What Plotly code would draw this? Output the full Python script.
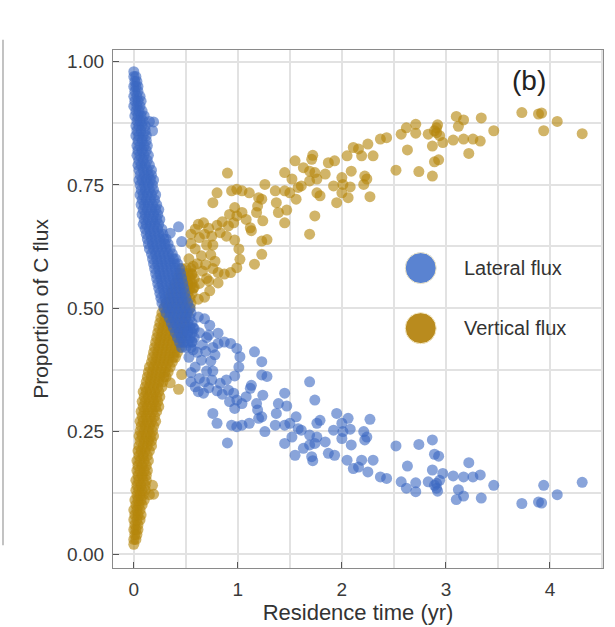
import plotly.graph_objects as go

# Dense core of sites with short residence times: one row per lateral-share level,
# with the residence times (yr) of the sites sitting at that level.
core_lateral_levels = [
    0.98, 0.97, 0.96, 0.95, 0.94, 0.93, 0.92, 0.91, 0.90, 0.89,
    0.88, 0.87, 0.86, 0.85, 0.84, 0.83, 0.82, 0.81, 0.80, 0.79,
    0.78, 0.77, 0.76, 0.75, 0.74, 0.73, 0.72, 0.71, 0.70, 0.69,
    0.68, 0.67, 0.66, 0.65, 0.64, 0.63, 0.62, 0.61, 0.60, 0.59,
    0.58, 0.57, 0.56, 0.55, 0.54, 0.53, 0.52, 0.51, 0.50, 0.49,
    0.48, 0.47, 0.46, 0.45, 0.44, 0.43, 0.42,
]
core_vertical_levels = [
    0.02, 0.03, 0.04, 0.05, 0.06, 0.07, 0.08, 0.09, 0.10, 0.11,
    0.12, 0.13, 0.14, 0.15, 0.16, 0.17, 0.18, 0.19, 0.20, 0.21,
    0.22, 0.23, 0.24, 0.25, 0.26, 0.27, 0.28, 0.29, 0.30, 0.31,
    0.32, 0.33, 0.34, 0.35, 0.36, 0.37, 0.38, 0.39, 0.40, 0.41,
    0.42, 0.43, 0.44, 0.45, 0.46, 0.47, 0.48, 0.49, 0.50, 0.51,
    0.52, 0.53, 0.54, 0.55, 0.56, 0.57, 0.58,
]
core_times = [
    [0.00],
    [0.00, 0.02],
    [0.01, 0.03],
    [0.00, 0.02, 0.04],
    [0.01, 0.04],
    [0.00, 0.03, 0.06],
    [0.01, 0.04, 0.07],
    [0.00, 0.03, 0.06],
    [0.02, 0.05, 0.08],
    [0.01, 0.04, 0.07, 0.10],
    [0.03, 0.06, 0.09],
    [0.02, 0.05, 0.08, 0.11],
    [0.03, 0.07, 0.11],
    [0.02, 0.05, 0.09, 0.12],
    [0.04, 0.08, 0.12],
    [0.03, 0.06, 0.10, 0.13],
    [0.04, 0.08, 0.12],
    [0.03, 0.06, 0.10, 0.14],
    [0.05, 0.09, 0.13],
    [0.04, 0.07, 0.11, 0.15],
    [0.05, 0.09, 0.13, 0.17],
    [0.06, 0.10, 0.14, 0.17],
    [0.05, 0.08, 0.12, 0.16, 0.19],
    [0.06, 0.10, 0.14, 0.18],
    [0.07, 0.11, 0.15, 0.19],
    [0.06, 0.09, 0.13, 0.17, 0.21],
    [0.08, 0.12, 0.16, 0.20],
    [0.07, 0.10, 0.14, 0.18, 0.22],
    [0.09, 0.13, 0.17, 0.21, 0.24],
    [0.08, 0.11, 0.15, 0.19, 0.23],
    [0.10, 0.14, 0.18, 0.22, 0.25],
    [0.09, 0.12, 0.16, 0.20, 0.24],
    [0.11, 0.15, 0.19, 0.23, 0.27],
    [0.12, 0.16, 0.20, 0.24, 0.28],
    [0.13, 0.17, 0.21, 0.25, 0.29, 0.31],
    [0.14, 0.18, 0.22, 0.26, 0.30, 0.33],
    [0.15, 0.19, 0.23, 0.27, 0.31, 0.35],
    [0.17, 0.21, 0.25, 0.29, 0.33, 0.37],
    [0.18, 0.22, 0.26, 0.30, 0.34, 0.38, 0.40],
    [0.19, 0.23, 0.27, 0.31, 0.35, 0.39, 0.42],
    [0.20, 0.24, 0.28, 0.32, 0.36, 0.40, 0.44],
    [0.21, 0.25, 0.29, 0.33, 0.37, 0.41, 0.45],
    [0.22, 0.26, 0.30, 0.34, 0.38, 0.42, 0.46],
    [0.23, 0.27, 0.31, 0.35, 0.39, 0.43, 0.47],
    [0.24, 0.28, 0.32, 0.36, 0.40, 0.44, 0.48],
    [0.25, 0.29, 0.33, 0.37, 0.41, 0.45, 0.49],
    [0.26, 0.30, 0.34, 0.38, 0.42, 0.46, 0.50],
    [0.27, 0.31, 0.35, 0.39, 0.43, 0.47, 0.52],
    [0.29, 0.33, 0.37, 0.41, 0.45, 0.49, 0.54],
    [0.31, 0.35, 0.39, 0.43, 0.47, 0.51, 0.55],
    [0.34, 0.38, 0.42, 0.46, 0.50, 0.54],
    [0.36, 0.40, 0.44, 0.48, 0.52, 0.56],
    [0.38, 0.42, 0.46, 0.50, 0.54, 0.57],
    [0.40, 0.44, 0.48, 0.52, 0.56],
    [0.42, 0.46, 0.50, 0.54, 0.58],
    [0.44, 0.48, 0.52, 0.56],
    [0.46, 0.50, 0.55],
]

# Individual sites away from the core
tail_time = [
    0.15, 0.19, 0.18, 0.35, 0.43, 0.46,
    0.62, 0.68, 0.73, 0.81, 0.70, 0.63, 0.66, 0.61, 0.65, 0.59, 0.55, 0.63, 0.59, 0.67, 0.70,
    0.52, 0.56, 0.58, 0.69, 0.72, 0.78, 0.68, 0.72, 0.80, 0.85, 0.62, 0.55, 0.53, 0.57,
    0.76, 0.81, 0.87, 0.93, 0.99, 1.02, 1.01, 0.97, 0.75, 0.83, 0.89, 0.74, 0.76,
    0.91, 0.96, 0.99, 1.04, 0.92, 0.97, 1.08, 1.12, 1.19, 1.20, 0.76, 0.80, 0.94, 0.99,
    1.04, 1.11, 0.90, 1.16, 1.23, 1.23, 1.28, 1.13, 1.24, 1.18, 1.23,
    1.69, 1.74, 1.45, 1.39, 1.47, 1.26, 1.37, 1.36, 1.45, 1.56, 1.52, 1.45, 1.61, 1.69,
    1.76, 1.74, 1.50, 1.58, 1.55, 1.63, 1.69, 1.71, 1.72, 1.79, 1.76, 1.84, 1.87, 1.93,
    1.95, 2.00, 1.92, 2.01, 2.06, 2.09, 2.00, 2.05, 2.11, 2.21, 2.24, 2.27, 2.19, 2.30,
    2.25, 2.37, 2.43, 2.08, 2.22, 2.16, 2.52, 2.74, 2.87, 2.89, 2.93, 3.22, 2.63, 2.57,
    2.62, 2.71, 2.71, 2.83, 2.87, 2.91, 2.91, 2.94, 2.97, 3.07, 3.12, 3.10, 3.17, 3.17,
    3.26, 3.33, 3.34, 3.46, 3.73, 3.89, 3.92, 3.94, 4.07, 4.31, 2.89, 2.92,
]
tail_lateral = [
    0.879, 0.878, 0.860, 0.652, 0.665, 0.635,
    0.482, 0.478, 0.465, 0.449, 0.440, 0.450, 0.425, 0.410, 0.394, 0.380, 0.369, 0.357, 0.340, 0.327, 0.372,
    0.452, 0.432, 0.458, 0.412, 0.445, 0.405, 0.350, 0.338, 0.332, 0.325, 0.330, 0.350, 0.400, 0.415,
    0.420, 0.428, 0.431, 0.428, 0.418, 0.401, 0.380, 0.362, 0.354, 0.347, 0.354, 0.392, 0.372,
    0.333, 0.327, 0.313, 0.306, 0.310, 0.296, 0.320, 0.337, 0.293, 0.276, 0.286, 0.266, 0.262, 0.259,
    0.262, 0.266, 0.226, 0.411, 0.391, 0.364, 0.361, 0.343, 0.323, 0.306, 0.279,
    0.350, 0.313, 0.327, 0.306, 0.301, 0.249, 0.286, 0.262, 0.262, 0.279, 0.238, 0.225, 0.252, 0.242,
    0.266, 0.225, 0.266, 0.255, 0.201, 0.215, 0.222, 0.198, 0.190, 0.272, 0.238, 0.228, 0.205, 0.201,
    0.286, 0.266, 0.252, 0.249, 0.276, 0.222, 0.235, 0.191, 0.174, 0.249, 0.238, 0.274, 0.191, 0.191,
    0.167, 0.157, 0.154, 0.254, 0.232, 0.177, 0.220, 0.223, 0.232, 0.203, 0.199, 0.186, 0.179, 0.147,
    0.134, 0.145, 0.127, 0.147, 0.171, 0.144, 0.134, 0.150, 0.164, 0.159, 0.131, 0.111, 0.118, 0.157,
    0.157, 0.161, 0.114, 0.140, 0.103, 0.106, 0.104, 0.140, 0.121, 0.146, 0.140, 0.128,
]
tail_vertical = [
    0.121, 0.122, 0.140, 0.348, 0.335, 0.365,
    0.518, 0.522, 0.535, 0.551, 0.560, 0.550, 0.575, 0.590, 0.606, 0.620, 0.631, 0.643, 0.660, 0.673, 0.628,
    0.548, 0.568, 0.542, 0.588, 0.555, 0.595, 0.650, 0.662, 0.668, 0.675, 0.670, 0.650, 0.600, 0.585,
    0.580, 0.572, 0.569, 0.572, 0.582, 0.599, 0.620, 0.638, 0.646, 0.653, 0.646, 0.608, 0.628,
    0.667, 0.673, 0.687, 0.694, 0.690, 0.704, 0.680, 0.663, 0.707, 0.724, 0.714, 0.734, 0.738, 0.741,
    0.738, 0.734, 0.774, 0.589, 0.609, 0.636, 0.639, 0.657, 0.677, 0.694, 0.721,
    0.650, 0.687, 0.673, 0.694, 0.699, 0.751, 0.714, 0.738, 0.738, 0.721, 0.762, 0.775, 0.748, 0.758,
    0.734, 0.775, 0.734, 0.745, 0.799, 0.785, 0.778, 0.802, 0.810, 0.728, 0.762, 0.772, 0.795, 0.799,
    0.714, 0.734, 0.748, 0.751, 0.724, 0.778, 0.765, 0.809, 0.826, 0.751, 0.762, 0.726, 0.809, 0.809,
    0.833, 0.843, 0.846, 0.746, 0.768, 0.823, 0.780, 0.777, 0.768, 0.797, 0.801, 0.814, 0.821, 0.853,
    0.866, 0.855, 0.873, 0.853, 0.829, 0.856, 0.866, 0.850, 0.836, 0.841, 0.869, 0.889, 0.882, 0.843,
    0.843, 0.839, 0.886, 0.860, 0.897, 0.894, 0.896, 0.860, 0.879, 0.854, 0.860, 0.872,
]

# Flatten the core rows and append the individual sites
residence_time, lateral_share, vertical_share = [], [], []
for lat, vert, times in zip(core_lateral_levels, core_vertical_levels, core_times):
    residence_time.extend(times)
    lateral_share.extend([lat] * len(times))
    vertical_share.extend([vert] * len(times))
residence_time.extend(tail_time)
lateral_share.extend(tail_lateral)
vertical_share.extend(tail_vertical)

BLUE = "#3a67c1"
GOLD = "#b4860c"
FONT = "Liberation Sans, Arial, Helvetica, sans-serif"
GRID = "#e2e2e2"

fig = go.Figure()
fig.add_trace(go.Scatter(
    x=residence_time, y=vertical_share, mode="markers", name="Vertical flux",
    marker=dict(size=11, color=GOLD, opacity=0.62, line=dict(width=0)),
))
fig.add_trace(go.Scatter(
    x=residence_time, y=lateral_share, mode="markers", name="Lateral flux",
    marker=dict(size=11, color=BLUE, opacity=0.6, line=dict(width=0)),
))

axis_common = dict(
    ticks="inside", ticklen=6, tickwidth=1, tickcolor="#555555",
    showline=True, linecolor="#8a8a8a", linewidth=1.2, mirror=True,
    showgrid=True, gridcolor=GRID, gridwidth=1.5, zeroline=False,
    tickfont=dict(family=FONT, size=19, color="#3a3a3a"),
    automargin=False,
)
fig.update_xaxes(
    range=[-0.2, 4.51], tickvals=[0, 1, 2, 3, 4],
    minor=dict(dtick=0.5, tick0=0, showgrid=True, gridcolor=GRID, gridwidth=1.5),
    title=dict(text="Residence time (yr)", font=dict(family=FONT, size=22, color="#333333"), standoff=5),
    ticklabelstandoff=4,
    **axis_common,
)
fig.update_yaxes(
    range=[-0.028, 1.024], tickvals=[0, 0.25, 0.5, 0.75, 1.0], tickformat=".2f",
    minor=dict(dtick=0.125, tick0=0, showgrid=True, gridcolor=GRID, gridwidth=1.5),
    title=dict(text="Proportion of C flux", font=dict(family=FONT, size=21, color="#333333"), standoff=12),
    ticklabelstandoff=4,
    **axis_common,
)

# Legend drawn as large discs with labels inside the plot area
legend_items = [("Lateral flux", "#5a83d1", 0.579), ("Vertical flux", "#b98b1e", 0.463)]
shapes = []
annotations = []
for label, color, ypos in legend_items:
    shapes.append(dict(
        type="circle", xref="paper", yref="paper",
        xsizemode="pixel", ysizemode="pixel", xanchor=0.628, yanchor=ypos,
        x0=-15.5, x1=15.5, y0=-15.5, y1=15.5,
        fillcolor=color, line=dict(color="#f3e9c8", width=1),
    ))
    annotations.append(dict(
        text=label, xref="paper", yref="paper", x=0.712, y=ypos,
        xanchor="left", yanchor="middle", showarrow=False,
        font=dict(family=FONT, size=20, color="#333333"),
    ))

# Right edge of the neighbouring panel's frame
shapes.append(dict(
    type="line", xref="paper", yref="paper", x0=-0.2245, x1=-0.2245, y0=0.044, y1=1.02,
    line=dict(color="#9a9a9a", width=1.2),
))

annotations.append(dict(
    text="(b)", xref="paper", yref="paper", x=0.849, y=0.942,
    xanchor="center", yanchor="middle", showarrow=False,
    font=dict(family=FONT, size=28, color="#222222"),
))

fig.update_layout(
    width=615, height=627,
    margin=dict(l=113, r=12, t=50, b=59),
    plot_bgcolor="white", paper_bgcolor="white",
    showlegend=False,
    shapes=shapes, annotations=annotations,
    font=dict(family=FONT, color="#333333"),
)

fig.write_html("out.html")
